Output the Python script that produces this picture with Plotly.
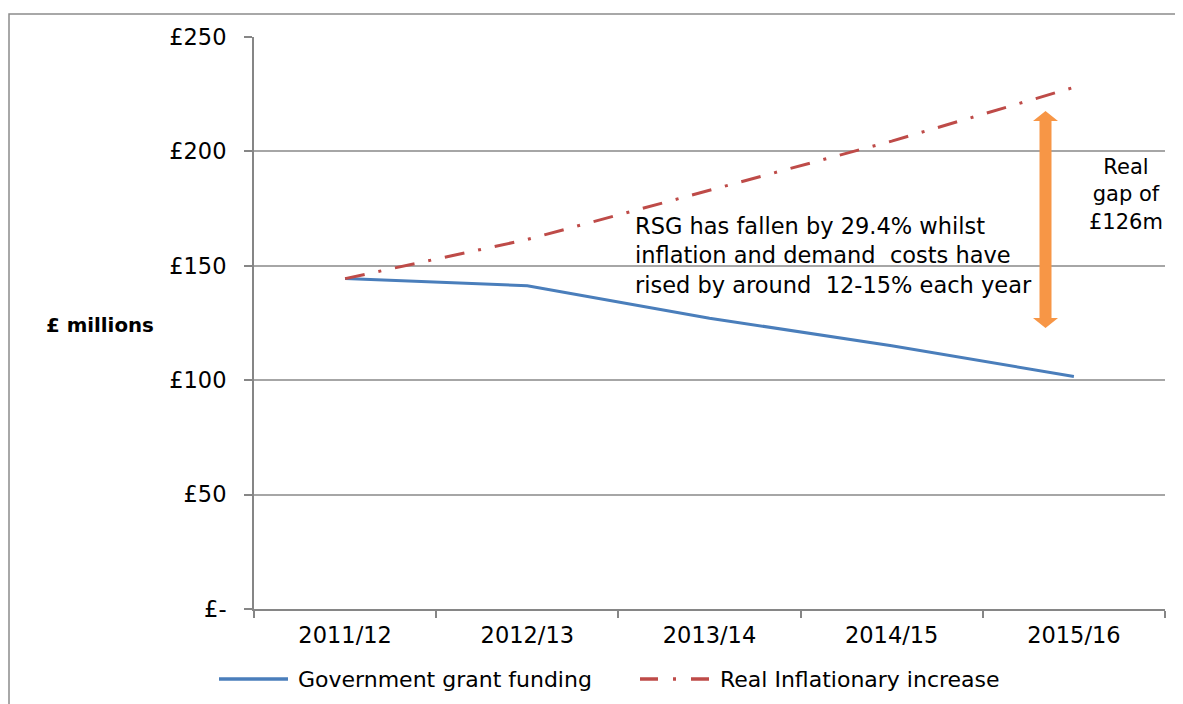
import plotly.graph_objects as go

# ---- data ----
years = ["2011/12", "2012/13", "2013/14", "2014/15", "2015/16"]
grant_funding = [144.4, 141.3, 127.1, 115.1, 101.6]
real_inflationary = [144.4, 161.5, 183.0, 204.5, 228.0]
y_tickvals = [0, 50, 100, 150, 200, 250]
y_ticktext = ["£-", "£50", "£100", "£150", "£200", "£250"]
series_names = ["Government grant funding", "Real Inflationary increase"]
series_colors = ["#4A7EBB", "#BE4B48"]
note_text = ("RSG has fallen by 29.4% whilst<br>inflation and demand&nbsp; costs have"
             "<br>rised by around&nbsp; 12-15% each year")
gap_text = "Real<br>gap of<br>£126m"
arrow_top, arrow_bottom = 217.7, 122.8

FONT = "DejaVu Sans"
OFF = 8                     # page body margin
W, H = 1183 - OFF, 704 - OFF
PL, PR, PT, PB = 254, 1165, 37, 609   # plot area in screen pixels
pw, ph = PR - PL, PB - PT


def px(x):
    return (x - PL) / pw


def py(y):
    return (PB - y) / ph


DASHDOT = "20px,14px,3px,14px"

fig = go.Figure()
fig.add_trace(go.Scatter(x=years, y=grant_funding, mode="lines", name=series_names[0],
                         line=dict(color=series_colors[0], width=3), showlegend=False))
fig.add_trace(go.Scatter(x=years, y=real_inflationary, mode="lines", name=series_names[1],
                         line=dict(color=series_colors[1], width=3, dash=DASHDOT), showlegend=False))

# double-headed orange arrow
xc = px(1045.5)
hh = 12.5 / pw
hs = 6.0 / pw
hy = 10 / ph * 250
t, b = arrow_top, arrow_bottom
path = (f"M {xc},{t} L {xc+hh},{t-hy} L {xc+hs},{t-hy} L {xc+hs},{b+hy} L {xc+hh},{b+hy} "
        f"L {xc},{b} L {xc-hh},{b+hy} L {xc-hs},{b+hy} L {xc-hs},{t-hy} L {xc-hh},{t-hy} Z")
fig.add_shape(type="path", path=path, xref="paper", yref="y",
              fillcolor="#F79646", line=dict(width=0))

# outer chart border
fig.add_shape(type="rect", xref="paper", yref="paper",
              x0=px(9), x1=1.2, y0=-0.5, y1=py(14),
              line=dict(color="#8C8C8C", width=1.5), fillcolor="rgba(0,0,0,0)", layer="below")

# custom legend (long sample lines as in the original)
leg_y = py(679)
fig.add_shape(type="line", xref="paper", yref="paper", x0=px(219), x1=px(288), y0=leg_y, y1=leg_y,
              line=dict(color=series_colors[0], width=3.5))
fig.add_shape(type="line", xref="paper", yref="paper", x0=px(640), x1=px(712), y0=leg_y, y1=leg_y,
              line=dict(color=series_colors[1], width=3.5, dash="18px,15px,3px,15px"))
for name, xs in zip(series_names, [296, 718]):
    fig.add_annotation(text=name, xref="paper", yref="paper", x=px(xs), y=leg_y,
                       xanchor="left", yanchor="middle", showarrow=False,
                       font=dict(family=FONT, size=22, color="black"))

fig.add_annotation(text=note_text, xref="paper", yref="paper",
                   x=px(633), y=py(255.5), xanchor="left", yanchor="middle",
                   align="left", showarrow=False, font=dict(family=FONT, size=22.5, color="black"))
fig.add_annotation(text=gap_text, xref="paper", yref="paper",
                   x=px(1126), y=py(194), xanchor="center", yanchor="middle",
                   align="center", showarrow=False, font=dict(family=FONT, size=21, color="black"))
fig.add_annotation(text="<b>£ millions</b>", xref="paper", yref="paper",
                   x=px(44), y=py(325), xanchor="left", yanchor="middle",
                   showarrow=False, font=dict(family=FONT, size=19.8, color="black"))

fig.update_layout(
    width=W, height=H,
    margin=dict(l=PL - OFF, r=1183 - PR, t=PT - OFF, b=704 - PB, autoexpand=False),
    plot_bgcolor="white", paper_bgcolor="white",
    font=dict(family=FONT, size=22, color="black"),
    showlegend=False,
    xaxis=dict(type="category", range=[-0.5, 4.5], showgrid=False,
               showline=True, linecolor="#868686", linewidth=2,
               ticks="outside", tickson="boundaries", ticklen=7, tickcolor="#868686", tickwidth=1.5,
               tickfont=dict(family=FONT, size=22.5, color="black"), ticklabelstandoff=5),
    yaxis=dict(range=[0, 250], tickvals=y_tickvals, ticktext=y_ticktext,
               showgrid=True, gridcolor="#A6A6A6", gridwidth=1.5,
               showline=True, linecolor="#868686", linewidth=2, zeroline=False,
               ticks="outside", ticklen=8, tickcolor="#868686", tickwidth=1.5,
               tickfont=dict(family=FONT, size=22.5, color="black"), ticklabelstandoff=13),
)

fig.write_html("out.html")
